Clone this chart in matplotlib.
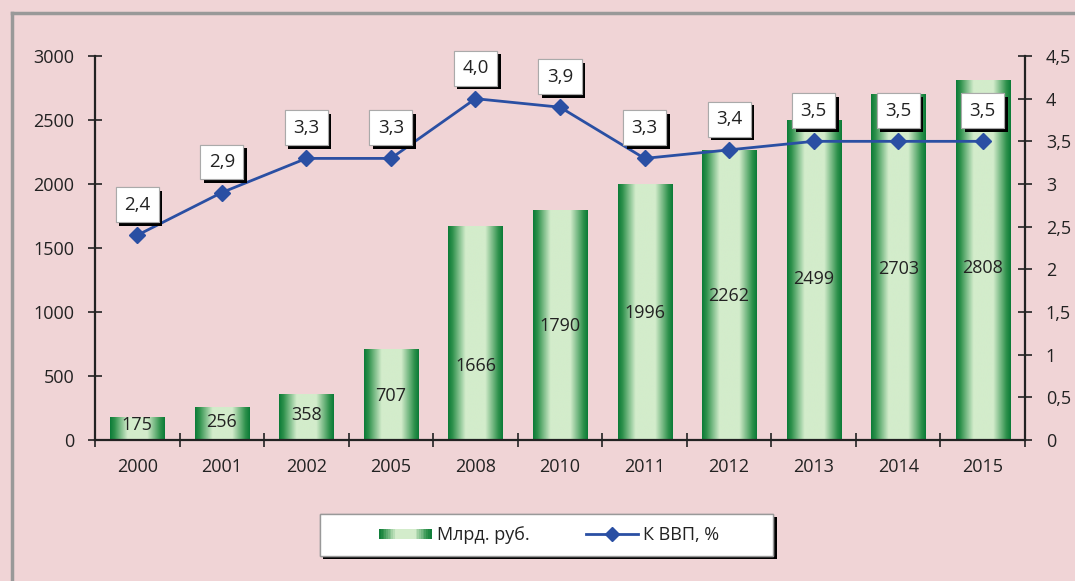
import numpy as np
import matplotlib
matplotlib.use('Agg')
import matplotlib.pyplot as plt
from matplotlib.colors import LinearSegmentedColormap
from matplotlib.lines import Line2D
from matplotlib.patches import Rectangle
from matplotlib.legend_handler import HandlerBase
import matplotlib.patheffects as pe

plt.rcParams['font.family'] = ['Open Sans', 'DejaVu Sans']

# данные
years = ['2000', '2001', '2002', '2005', '2008', '2010', '2011', '2012', '2013', '2014', '2015']
bln_rub = [175, 256, 358, 707, 1666, 1790, 1996, 2262, 2499, 2703, 2808]
gdp_share = [2.4, 2.9, 3.3, 3.3, 4.0, 3.9, 3.3, 3.4, 3.5, 3.5, 3.5]
# высота подписей внутри столбцов (как на исходнике)
bar_label_y = [117, 141, 195, 344, 578, 890, 992, 1125, 1258, 1336, 1344]

bg = '#F0D4D6'
line_col = '#2A4FA3'
dark_green = '#0B7B37'
light_green = '#D3ECCB'
grad = LinearSegmentedColormap.from_list(
    'bar', [(0, dark_green), (0.08, '#2E914C'), (0.32, light_green),
            (0.68, light_green), (0.92, '#2E914C'), (1, dark_green)])

fig = plt.figure(figsize=(10.75, 5.81), dpi=100, facecolor=bg)
ax = fig.add_axes([0.0884, 0.2427, 0.8651, 0.6609])
ax.set_facecolor(bg)
ax.patch.set_alpha(0)

x = np.arange(len(years))
width = 0.64
g = np.linspace(0, 1, 200).reshape(1, -1)
for xi, v in zip(x, bln_rub):
    ax.imshow(g, cmap=grad, aspect='auto', extent=[xi - width / 2, xi + width / 2, 0, v],
              origin='lower', zorder=2, interpolation='bilinear')
for xi, v, ly in zip(x, bln_rub, bar_label_y):
    ax.text(xi, ly, str(v), ha='center', va='center', fontsize=13, color='#222222', zorder=3)

ax.set_xlim(-0.5, len(years) - 0.5)
ax.set_ylim(0, 3000)
ax.set_yticks(np.arange(0, 3001, 500))
ax.set_xticks(x)
ax.set_xticklabels(years)
ax.set_xticks(np.arange(-0.5, len(years), 1), minor=True)
ax.tick_params(axis='x', which='major', length=0, pad=13, labelsize=13, colors='#222222')
ax.tick_params(axis='x', which='minor', length=10, direction='inout', width=1.2, color='#222222')
ax.tick_params(axis='y', length=10, direction='inout', width=1.2, pad=10, labelsize=13,
               colors='#222222')
for s in ['top', 'right']:
    ax.spines[s].set_visible(False)
for s in ['left', 'bottom']:
    ax.spines[s].set_linewidth(1.6)
    ax.spines[s].set_color('#222222')

ax2 = ax.twinx()
ax2.set_ylim(0, 4.5)
ticks2 = np.arange(0, 4.51, 0.5)
ax2.set_yticks(ticks2)
ax2.set_yticklabels([('%g' % t).replace('.', ',') for t in ticks2])
ax2.tick_params(axis='y', length=10, direction='inout', width=1.2, pad=10, labelsize=13,
                colors='#222222')
for s in ['top', 'left', 'bottom']:
    ax2.spines[s].set_visible(False)
ax2.spines['right'].set_linewidth(1.6)
ax2.spines['right'].set_color('#222222')

ax2.plot(x, gdp_share, color=line_col, lw=2, marker='D', ms=8, zorder=4)
shadow = [pe.withSimplePatchShadow(offset=(2.5, -2.5), shadow_rgbFace='black', alpha=1),
          pe.Normal()]
for xi, v in zip(x, gdp_share):
    t = ax2.annotate(('%.1f' % v).replace('.', ','), (xi, v), xytext=(0, 22),
                     textcoords='offset points', ha='center', va='center', fontsize=13.5,
                     color='#222222', zorder=5,
                     bbox=dict(boxstyle='square,pad=0.45', fc='white', ec='#AAAAAA', lw=0.8))
    t.get_bbox_patch().set_path_effects(shadow)


class GradientHandler(HandlerBase):
    def create_artists(self, legend, orig_handle, xdescent, ydescent, width, height,
                       fontsize, trans):
        n = 30
        arts = []
        for i in range(n):
            r = Rectangle((-xdescent + width * i / n, -ydescent + height * 0.1),
                          width / n + 0.3, height * 0.8, facecolor=grad((i + 0.5) / n),
                          edgecolor='none', transform=trans)
            arts.append(r)
        return arts


# рамка легенды
box = Rectangle((0.2977, 0.043), 0.4214, 0.0723, transform=fig.transFigure,
                facecolor='white', edgecolor='#999999', lw=1, zorder=3)
box.set_path_effects(shadow)
fig.add_artist(box)

bar_handle = Rectangle((0, 0), 1, 1)
line_handle = Line2D([], [], color=line_col, lw=2, marker='D', ms=7)
leg = fig.legend([bar_handle, line_handle], ['Млрд. руб.', 'К ВВП, %'],
                 handler_map={Rectangle: GradientHandler()},
                 loc='center left', bbox_to_anchor=(0.3526, 0.079), ncol=2, fontsize=13,
                 frameon=False, handlelength=2.9, columnspacing=3.1,
                 borderpad=0, borderaxespad=0, handletextpad=0.3)
leg.set_zorder(4)
for txt in leg.get_texts():
    txt.set_color('#222222')

# рамка слева и сверху
fig.add_artist(Line2D([0.0112, 0.0112], [0, 0.977], color='#999999', lw=2.5,
                      transform=fig.transFigure))
fig.add_artist(Line2D([0.0112, 1], [0.977, 0.977], color='#999999', lw=2.5,
                      transform=fig.transFigure))

fig.savefig('out.png', dpi=100, facecolor=bg)
